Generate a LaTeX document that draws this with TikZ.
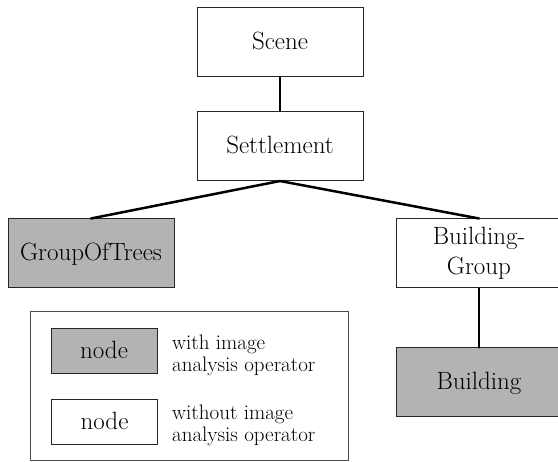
\documentclass[tikz,border=0pt]{standalone}
\usepackage{fontspec}
\definecolor{opgray}{RGB}{179,179,179}

\begin{document}
\begin{tikzpicture}[x=1pt, y=-1pt, line cap=round,
	plainbox/.style={draw=black!85, line width=1pt, minimum width=166pt, minimum height=69pt, inner sep=0pt, font=\fontsize{25}{30}\selectfont},
	box/.style={plainbox, text height=15pt, text depth=0pt},
	opbox/.style={box, fill=opgray},
	keybox/.style={box, minimum width=106pt, minimum height=45pt},
	keytext/.style={anchor=west, align=left, inner sep=0pt, font=\fontsize{21}{22}\selectfont},
	edge/.style={line width=2.5pt}]
	\useasboundingbox (0,0) rectangle (558,462);
	
	% Nodes
	\node[box] (scene) at (280,42.5) {Scene};
	\node[box] (settlement) at (280,146) {Settlement};
	\node[opbox] (trees) at (91,253.5) {GroupOfTrees};
	\node[plainbox, align=center] (bgroup) at (479,253.5) {Building-\\Group};
	\node[opbox] (building) at (479,382.5) {Building};
	
	% Lines
	\draw[edge] (scene.south) -- (settlement.north);
	\draw[edge] (settlement.south) -- (trees.north);
	\draw[edge] (settlement.south) -- (bgroup.north);
	\draw[edge] (bgroup.south) -- (building.north);
	
	% Legend
	\draw[black!70, line width=1pt] (30,312) rectangle (348,461);
	\node[keybox, fill=opgray] (keyop) at (104,351.5) {node};
	\node[keybox] (keyplain) at (104.5,422) {node};
	\node[keytext] (keyoptext) at (172,355.5) {with image\\analysis operator};
	\node[keytext] (keyplaintext) at (172,425) {without image\\analysis operator};
\end{tikzpicture}
\end{document}
